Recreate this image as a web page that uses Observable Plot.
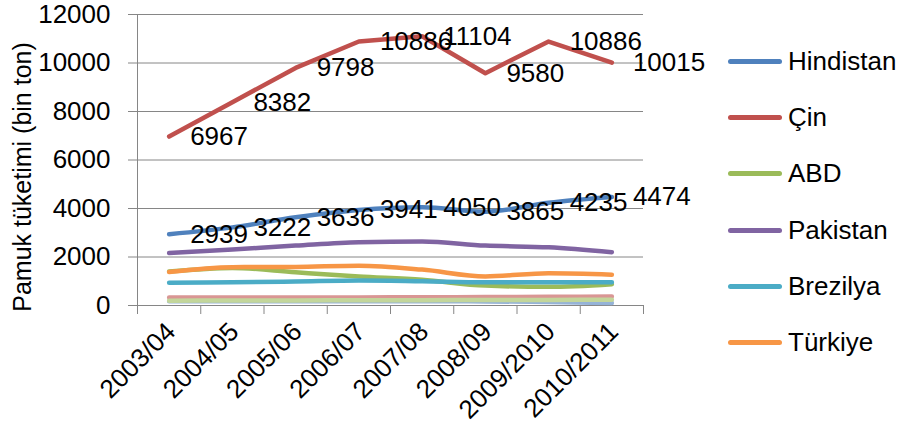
<!DOCTYPE html>
<html><head><meta charset="utf-8">
<script src="https://cdn.jsdelivr.net/npm/d3@7"></script>
<script src="https://cdn.jsdelivr.net/npm/@observablehq/plot@0.6"></script>
<style>
body{margin:0;background:#fff;}
#wrap{position:relative;width:908px;height:431px;font-family:"Liberation Sans",Arial,sans-serif;color:#000;}
.item{position:absolute;left:728px;height:30px;display:flex;align-items:center;font-size:26px;white-space:nowrap;}
.swatch{width:54px;height:5px;border-radius:3px;margin-right:6px;}
.ytitle{position:absolute;left:22px;top:177px;font-size:25px;white-space:nowrap;transform:translate(-50%,-50%) rotate(-90deg);}
</style></head><body><div id="wrap"></div>
<script>
// Categories (seasons)
const seasons = ["2003/04","2004/05","2005/06","2006/07","2007/08","2008/09","2009/2010","2010/2011"];
// Legend series
const seriesNames = ["Hindistan","Çin","ABD","Pakistan","Brezilya","Türkiye"];
const seriesColors = ["#4F81BD","#C0504D","#9BBB59","#8064A2","#4BACC6","#F79646"];
// Values (bin ton)
const hindistan = [2939,3222,3636,3941,4050,3865,4235,4474];
const cin       = [6967,8382,9798,10886,11104,9580,10886,10015];
const abd       = [1400,1550,1370,1200,1060,820,770,880];
const pakistan  = [2160,2310,2470,2610,2640,2470,2400,2200];
const brezilya  = [935,960,990,1030,1000,960,960,960];
const turkiye   = [1380,1580,1590,1640,1480,1200,1330,1270];
// Unlabelled extra series (not in legend)
const extraNames  = ["diğer1","diğer2","diğer3"];
const extraColors = ["#95B3D7","#D99694","#C3D69B"];
const extra1 = [180,180,180,180,180,170,140,100];
const extra2 = [330,330,330,335,340,350,360,370];
const extra3 = [200,205,210,215,220,225,230,235];
const yTicks = [0,2000,4000,6000,8000,10000,12000];
const yTitle = "Pamuk tüketimi (bin ton)";

const allValues = [hindistan,cin,abd,pakistan,brezilya,turkiye,extra1,extra2,extra3];
const allNames = [...seriesNames, ...extraNames];
const allColors = [...seriesColors, ...extraColors];
const n = seasons.length;
const rowsOf = k => allValues[k].map((v,i)=>({series:allNames[k], i, value:v}));
const boundaries = d3.range(n+1).map(i=>i-0.5);
const grid = "#868686";
const font = "Liberation Sans, Arial, sans-serif";

const lineMarks = allValues.map((_,k)=>Plot.line(rowsOf(k), {
  x:"i", y:"value", stroke: allColors[k], strokeWidth: 4.5,
  strokeLinecap:"round", strokeLinejoin:"round",
  curve: k===1 ? "linear" : "monotone-x"
}));
const labelMarks = [0,1].map(k=>Plot.text(rowsOf(k), {
  x:"i", y:"value", text:d=>String(d.value), textAnchor:"start", dx:21,
  fontSize:26, fill:"#000"
}));

const chart = Plot.plot({
  width:908, height:431,
  marginLeft:137, marginRight:265, marginTop:14, marginBottom:126,
  style:{fontFamily:font, fontSize:"26px", color:"#000", background:"#fff", overflow:"visible"},
  x:{type:"linear", domain:[-0.5, n-0.5]},
  y:{domain:[0,12000]},
  marks:[
    Plot.gridY(yTicks, {stroke:grid, strokeOpacity:1, strokeWidth:1}),
    Plot.axisY(yTicks, {tickSize:9, tickPadding:18, stroke:grid, fontSize:26, label:null, tickFormat:d=>String(d)}),
    Plot.ruleX([-0.5], {stroke:grid}),
    Plot.ruleY([0], {stroke:grid}),
    Plot.axisX(boundaries, {tickSize:9, tickFormat:()=>"", stroke:grid, label:null}),
    Plot.text(d3.range(n), {x:d=>d, text:d=>seasons[d], frameAnchor:"bottom", rotate:-45,
      textAnchor:"end", lineAnchor:"middle", dy:22, dx:2, fontSize:26, fill:"#000"}),
    ...lineMarks,
    ...labelMarks
  ]
});
const wrap = document.getElementById("wrap");
wrap.appendChild(chart);
const t = document.createElement("div");
t.className = "ytitle"; t.textContent = yTitle;
wrap.appendChild(t);
const legendY = [61,117,173,230,286,342];
seriesNames.forEach((name,k)=>{
  const it = document.createElement("div");
  it.className="item";
  it.style.top = (legendY[k]-15)+"px";
  const sw = document.createElement("div");
  sw.className="swatch"; sw.style.background = seriesColors[k];
  const tx = document.createElement("span"); tx.textContent = name;
  it.appendChild(sw); it.appendChild(tx);
  wrap.appendChild(it);
});
</script></body></html>
